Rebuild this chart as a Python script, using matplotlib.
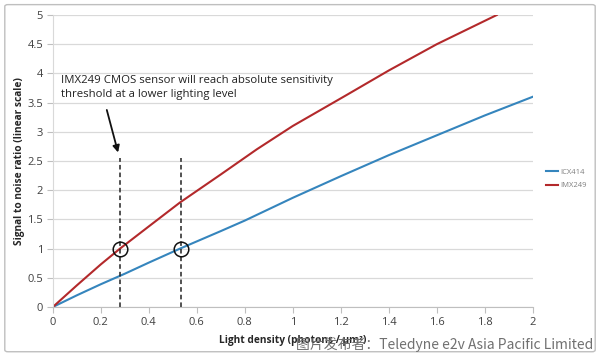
import matplotlib
matplotlib.use("Agg")
import matplotlib.pyplot as plt
from matplotlib.patches import FancyBboxPatch

# Data
x_icx = [0, 0.1, 0.2, 0.3, 0.4, 0.53, 0.7, 0.8, 1.0, 1.2, 1.4, 1.6, 1.8, 2.0]
y_icx = [0, 0.2, 0.39, 0.57, 0.76, 1.0, 1.3, 1.48, 1.87, 2.24, 2.6, 2.94, 3.28, 3.6]
x_imx = [0, 0.1, 0.2, 0.28, 0.4, 0.53, 0.7, 0.85, 1.0, 1.22, 1.4, 1.6, 1.85]
y_imx = [0, 0.37, 0.73, 1.0, 1.38, 1.79, 2.27, 2.7, 3.1, 3.62, 4.05, 4.5, 5.0]
series_names = ["ICX414", "IMX249"]
threshold_x = [0.28, 0.535]
threshold_y = 1.0
x_ticks = [0, 0.2, 0.4, 0.6, 0.8, 1, 1.2, 1.4, 1.6, 1.8, 2]
x_tick_labels = ["0", "0.2", "0.4", "0.6", "0.8", "1", "1.2", "1.4", "1.6", "1.8", "2"]
y_ticks = [0, 0.5, 1, 1.5, 2, 2.5, 3, 3.5, 4, 4.5, 5]
y_tick_labels = ["0", "0.5", "1", "1.5", "2", "2.5", "3", "3.5", "4", "4.5", "5"]

plt.rcParams['font.family'] = ['Open Sans', 'DejaVu Sans']

fig = plt.figure(figsize=(6.0, 3.56), dpi=100)
ax = fig.add_axes([0.088, 0.1376, 0.8, 0.8203])

blue = '#3585BD'
red = '#B3292B'
grid_c = '#D9D9D9'

ax.set_xlim(0, 2)
ax.set_ylim(0, 5)
ax.set_yticks(y_ticks)
ax.set_yticklabels(y_tick_labels)
ax.set_xticks(x_ticks)
ax.set_xticklabels(x_tick_labels)
ax.yaxis.grid(True, color=grid_c, linewidth=0.9)
ax.set_axisbelow(True)
for s in ['top', 'right']:
    ax.spines[s].set_visible(False)
ax.spines['left'].set_color(grid_c)
ax.spines['bottom'].set_color('#BFBFBF')
ax.tick_params(axis='both', colors='#BFBFBF', labelcolor='#404040', labelsize=8, length=4)
ax.tick_params(axis='y', pad=3)

l1, = ax.plot(x_icx, y_icx, color=blue, linewidth=1.5, label=series_names[0])
l2, = ax.plot(x_imx, y_imx, color=red, linewidth=1.5, label=series_names[1])

for tx in threshold_x:
    ax.plot([tx, tx], [0, 2.55], color='#222222', linestyle=(0, (3, 2)), linewidth=1.1)
    ax.plot([tx], [threshold_y], marker='o', markersize=10.5, markerfacecolor='none',
            markeredgecolor='#111111', markeredgewidth=1.1)

ax.annotate('', xy=(0.275, 2.6), xytext=(0.222, 3.42),
            arrowprops=dict(arrowstyle='-|>', color='#111111', lw=1.3, mutation_scale=10))
ax.text(0.033, 3.76, "IMX249 CMOS sensor will reach absolute sensitivity\nthreshold at a lower lighting level",
        fontsize=8.2, color='#222222', ha='left', va='center', linespacing=1.4)

ax.set_xlabel("Light density (photons / µm²)", fontsize=7.3, fontweight='bold', color='#262626', labelpad=5)
ax.set_ylabel("Signal to noise ratio (linear scale)", fontsize=7.3, fontweight='bold', color='#262626', labelpad=2)

leg = fig.legend(handles=[l1, l2], labels=series_names, loc='upper left',
                 bbox_to_anchor=(0.905, 0.535), frameon=False, fontsize=5.5,
                 handlelength=1.5, handletextpad=0.3, labelspacing=0.8, borderaxespad=0)
for t in leg.get_texts():
    t.set_color('#7F7F7F')

border = FancyBboxPatch((0.008, 0.012), 0.984, 0.975, boxstyle="round,pad=0,rounding_size=0.005",
                        transform=fig.transFigure, fill=False, edgecolor='#BFBFBF', linewidth=1.0)
fig.patches.append(border)

fig.text(0.988, 0.033, "图片发布者：Teledyne e2v Asia Pacific Limited",
         family=['Noto Sans CJK SC', 'DejaVu Sans'], fontsize=10, color='#707070',
         ha='right', va='center')

fig.savefig("out.png", dpi=100)
